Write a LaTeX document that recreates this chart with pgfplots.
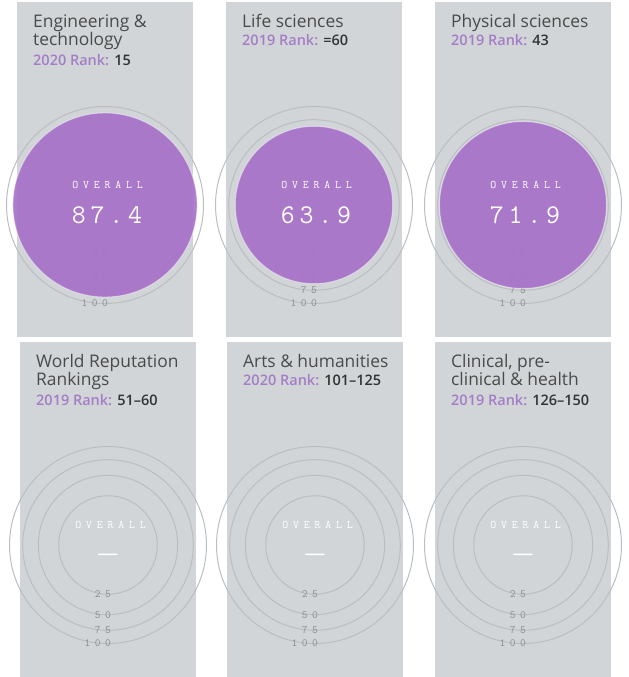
\documentclass[border=0pt]{standalone}
\usepackage{fontspec}
\usepackage{pgfplots}
\pgfplotsset{compat=1.18}
\usepackage{pgfplotstable}
\setmainfont{Open Sans}
\IfFontExistsTF{Open Sans SemiBold}{\newfontfamily\semib{Open Sans SemiBold}}{%
  \IfFontExistsTF{Open Sans Semibold}{\newfontfamily\semib{Open Sans Semibold}}{\newcommand\semib{\bfseries}}}
\newfontfamily\lmmono[LetterSpace=42]{Latin Modern Mono}
\newfontfamily\lmmonoL[LetterSpace=40]{Latin Modern Mono}
\newfontfamily\lmmonoN[LetterSpace=18]{Latin Modern Mono}
\newcommand\ovfont{\lmmono\fontsize{11.5bp}{13bp}\selectfont}
\newcommand\labfont{\lmmonoL\fontsize{11bp}{13bp}\selectfont}
\newcommand\numfont{\lmmonoN\fontsize{27bp}{30bp}\selectfont}
\newcommand\ttlfont{\fontsize{17.4bp}{19bp}\selectfont}
\newcommand\rkfont{\semib\fontsize{14.5bp}{17bp}\selectfont}

\definecolor{panelc}{HTML}{D1D5D8}
\definecolor{ringc}{HTML}{BABEC1}
\definecolor{diskc}{HTML}{A872C8}
\definecolor{rankp}{HTML}{A57DC6}
\definecolor{titlec}{HTML}{4A4A4A}
\definecolor{valc}{HTML}{333333}
\definecolor{labc}{HTML}{8E8E8E}

\pgfplotstableread{
x y v
0 0 25
0 0 50
0 0 75
0 0 100
}\rings
\pgfplotstableread{
x y v
0 0 87.4
}\engtech
\pgfplotstableread{
x y v
0 0 63.9
}\lifesci
\pgfplotstableread{
x y v
0 0 71.9
}\physsci

\pgfplotsset{
  panel/.style={scale only axis, width=176bp, height=335bp,
    xmin=-88, xmax=88, ymin=-132, ymax=203,
    axis line style={draw=none}, xtick=\empty, ytick=\empty, clip=false,
    axis background/.style={fill=panelc}},
  radius from value/.style={point meta=\thisrow{v}, point meta min=0, point meta max=100,
    visualization depends on={sqrt(\thisrow{v}/100)*98.5 \as \rad}},
  ringmarks/.style={radius from value, scatter, only marks, mark=o, line width=1bp,
    scatter/use mapped color={draw=ringc, /tikz/mark size=\rad bp}},
  ringlabels/.style={radius from value, only marks, mark=none,
    /pgf/number format/assume math mode=true,
    nodes near coords,
    every node near coord/.append style={font=\labfont, text=labc, anchor=east, inner sep=0pt, xshift=3bp, yshift=-\rad bp}},
  diskmark/.style={radius from value, scatter, only marks, mark=*, line width=1bp,
    scatter/use mapped color={draw=white, draw opacity=0.45, fill=diskc, fill opacity=0.93, /tikz/mark size=\rad bp}},
  disklabel/.style={radius from value, only marks, mark=none,
    /pgf/number format/assume math mode=true,
    nodes near coords,
    every node near coord/.append style={font=\numfont, text=white, anchor=center, inner sep=0pt, xshift=2bp, yshift=-10bp}},
  overalllabel/.style={only marks, mark=none, point meta=\thisrow{v},
    nodes near coords={OVERALL},
    every node near coord/.append style={font=\ovfont, text=white, anchor=center, inner sep=0pt, xshift=2.5bp, yshift=20bp}}
}

\newcommand\headsOne[3]{%
  \node[anchor=base west, font=\ttlfont, text=titlec, inner sep=0pt, xshift=16bp, yshift=-26bp] at (rel axis cs:0,1) {#1};
  \node[anchor=base west, font=\rkfont, inner sep=0pt, xshift=16bp, yshift=-44bp] at (rel axis cs:0,1) {\textcolor{rankp}{#2} \textcolor{valc}{#3}};}
\newcommand\headsTwo[4]{%
  \node[anchor=base west, font=\ttlfont, text=titlec, inner sep=0pt, xshift=16bp, yshift=-26bp] at (rel axis cs:0,1) {#1};
  \node[anchor=base west, font=\ttlfont, text=titlec, inner sep=0pt, xshift=16bp, yshift=-44bp] at (rel axis cs:0,1) {#2};
  \node[anchor=base west, font=\rkfont, inner sep=0pt, xshift=16bp, yshift=-64bp] at (rel axis cs:0,1) {\textcolor{rankp}{#3} \textcolor{valc}{#4}};}
\newcommand\overall{\node[font=\ovfont, text=white, inner sep=0pt, xshift=2.5bp, yshift=20bp] at (axis cs:0,0) {OVERALL};}
\newcommand\nodash{\node[font=\fontsize{21bp}{24bp}\selectfont, text=white, inner sep=0pt, yshift=-12bp] at (axis cs:0,0) {—};}
\newcommand\ringset{%
  \addplot[ringmarks] table {\rings};
  \addplot[ringlabels] table {\rings};}
\newcommand\scoredisk[1]{%
  \addplot[diskmark] table {#1};
  \addplot[disklabel] table {#1};
  \addplot[overalllabel] table {#1};}

\begin{document}
\begin{tikzpicture}
\useasboundingbox (0bp,0bp) rectangle (629bp,677bp);
% top row
\begin{axis}[panel, at={(17bp,340bp)}, anchor=south west]
  \ringset
  \scoredisk{\engtech}
  \headsTwo{Engineering \&}{technology}{2020 Rank:}{15}
\end{axis}
\begin{axis}[panel, at={(226bp,340bp)}, anchor=south west]
  \ringset
  \scoredisk{\lifesci}
  \headsOne{Life sciences}{2019 Rank:}{=60}
\end{axis}
\begin{axis}[panel, at={(435bp,340bp)}, anchor=south west]
  \ringset
  \scoredisk{\physsci}
  \headsOne{Physical sciences}{2019 Rank:}{43}
\end{axis}
% bottom row
\begin{axis}[panel, at={(20bp,0bp)}, anchor=south west]
  \ringset
  \overall
  \nodash
  \headsTwo{World Reputation}{Rankings}{2019 Rank:}{51–60}
\end{axis}
\begin{axis}[panel, at={(227bp,0bp)}, anchor=south west]
  \ringset
  \overall
  \nodash
  \headsOne{Arts \& humanities}{2020 Rank:}{101–125}
\end{axis}
\begin{axis}[panel, at={(435bp,0bp)}, anchor=south west]
  \ringset
  \overall
  \nodash
  \headsTwo{Clinical, pre-}{clinical \& health}{2019 Rank:}{126–150}
\end{axis}
\end{tikzpicture}
\end{document}
